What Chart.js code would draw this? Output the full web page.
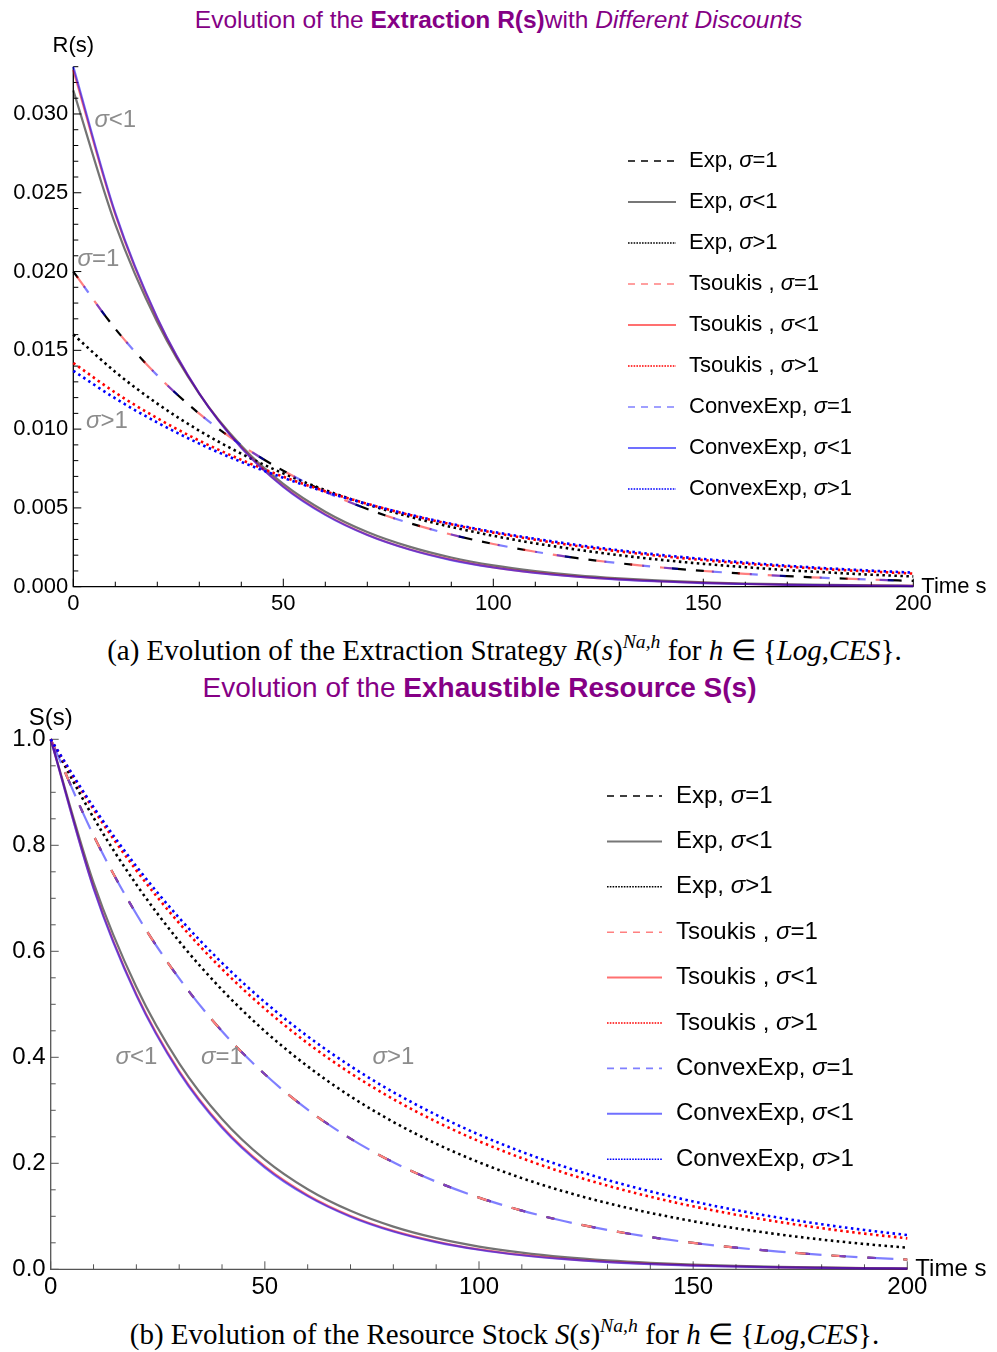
<!DOCTYPE html>
<html>
<head>
<meta charset="utf-8">
<script src="https://cdn.jsdelivr.net/npm/chart.js@4.4.0/dist/chart.umd.min.js"></script>
<style>
  body { margin: 0; background: #fff; width: 997px; height: 1352px; position: relative; overflow: hidden; font-family: 'Liberation Sans', Arial, sans-serif; }
  .title { position: absolute; left: 0; width: 997px; text-align: center; color: #850085; white-space: nowrap; line-height: 30px; }
  .cap { position: absolute; left: 0; width: 997px; text-align: center; font-family: 'Liberation Serif', 'Times New Roman', serif; font-size: 29px; line-height: 30px; white-space: nowrap; }
  .cap sup { font-size: 68%; vertical-align: 0.6em; line-height: 0; }
  canvas { position: absolute; left: 0; }
</style>
</head>
<body>
<div class="title" style="top:5px;font-size:24.5px;">Evolution of the <b>Extraction R(s)</b>with <i>Different Discounts</i></div>
<canvas id="chartR" width="997" height="625" style="top:0;width:997px;height:625px;"></canvas>
<div class="cap" style="top:635px;left:6px;">(a) Evolution of the Extraction Strategy <i>R</i>(<i>s</i>)<sup><i>Na,h</i></sup> for <i>h</i> ∈ {<i>Log</i>,<i>CES</i>}.</div>
<div class="title" style="top:673px;left:-19px;font-size:28px;">Evolution of the <b>Exhaustible Resource S(s)</b></div>
<canvas id="chartS" width="997" height="610" style="top:700px;width:997px;height:610px;"></canvas>
<div class="cap" style="top:1319px;left:6px;">(b) Evolution of the Resource Stock <i>S</i>(<i>s</i>)<sup><i>Na,h</i></sup> for <i>h</i> ∈ {<i>Log</i>,<i>CES</i>}.</div>

<script>
// time grid (s)
const sTime = [0, 10, 20, 30, 40, 50, 60, 70, 80, 90, 100, 110, 120, 130, 140, 150, 160, 170, 180, 190, 200];

const seriesNames = ['Exp', 'Exp', 'Exp', 'Tsoukis ', 'Tsoukis ', 'Tsoukis ', 'ConvexExp', 'ConvexExp', 'ConvexExp'];
const sigmaTags = ['=1', '<1', '>1', '=1', '<1', '>1', '=1', '<1', '>1'];

// extraction R(s)
const rEq    = [0.0200, 0.01637, 0.01341, 0.01098, 0.00899, 0.00736, 0.00602, 0.00493, 0.00404, 0.00331, 0.00271, 0.00222, 0.00181, 0.00149, 0.00122, 0.00100, 0.00082, 0.00067, 0.00055, 0.00045, 0.00037];
const rExpLt = [0.0315, 0.02299, 0.01678, 0.01224, 0.00894, 0.00652, 0.00476, 0.00347, 0.00254, 0.00185, 0.00135, 0.00099, 0.00072, 0.00053, 0.00038, 0.00028, 0.00020, 0.00015, 0.00011, 0.00008, 0.00006];
const rTsLt  = [0.0328, 0.02363, 0.01702, 0.01226, 0.00883, 0.00636, 0.00459, 0.00330, 0.00238, 0.00172, 0.00123, 0.00089, 0.00064, 0.00046, 0.00033, 0.00024, 0.00017, 0.00012, 0.00009, 0.00007, 0.00005];
const rCxLt  = [0.0330, 0.02372, 0.01706, 0.01226, 0.00881, 0.00634, 0.00456, 0.00328, 0.00236, 0.00169, 0.00122, 0.00087, 0.00063, 0.00045, 0.00033, 0.00023, 0.00017, 0.00012, 0.00009, 0.00006, 0.00004];
const rExpGt = [0.0160, 0.01363, 0.01162, 0.00990, 0.00844, 0.00719, 0.00613, 0.00522, 0.00445, 0.00379, 0.00323, 0.00275, 0.00235, 0.00200, 0.00170, 0.00145, 0.00124, 0.00105, 0.00090, 0.00076, 0.00065];
const rTsGt  = [0.0142, 0.01232, 0.01069, 0.00927, 0.00805, 0.00698, 0.00606, 0.00526, 0.00456, 0.00396, 0.00343, 0.00298, 0.00258, 0.00224, 0.00194, 0.00169, 0.00146, 0.00127, 0.00110, 0.00096, 0.00083];
const rCxGt  = [0.0137, 0.01195, 0.01042, 0.00908, 0.00792, 0.00691, 0.00602, 0.00525, 0.00458, 0.00399, 0.00348, 0.00304, 0.00265, 0.00231, 0.00201, 0.00176, 0.00153, 0.00133, 0.00116, 0.00102, 0.00089];

// resource stock S(s)
const sEq    = [1, 0.8187, 0.6703, 0.5488, 0.4493, 0.3679, 0.3012, 0.2466, 0.2019, 0.1653, 0.1353, 0.1108, 0.0907, 0.0743, 0.0608, 0.0498, 0.0408, 0.0334, 0.0273, 0.0224, 0.0183];
const sExpLt = [1, 0.7298, 0.5326, 0.3887, 0.2837, 0.2070, 0.1511, 0.1103, 0.0805, 0.0587, 0.0429, 0.0313, 0.0228, 0.0167, 0.0122, 0.0089, 0.0065, 0.0047, 0.0035, 0.0025, 0.0018];
const sTsLt  = [1, 0.7204, 0.5190, 0.3739, 0.2693, 0.1940, 0.1398, 0.1007, 0.0725, 0.0523, 0.0376, 0.0271, 0.0195, 0.0141, 0.0101, 0.0073, 0.0053, 0.0038, 0.0027, 0.0020, 0.0014];
const sCxLt  = [1, 0.7189, 0.5169, 0.3716, 0.2671, 0.1920, 0.1381, 0.0993, 0.0714, 0.0513, 0.0369, 0.0265, 0.0191, 0.0137, 0.0099, 0.0071, 0.0051, 0.0037, 0.0026, 0.0019, 0.0014];
const sExpGt = [1, 0.8521, 0.7261, 0.6188, 0.5273, 0.4493, 0.3829, 0.3263, 0.2780, 0.2369, 0.2019, 0.1720, 0.1466, 0.1249, 0.1065, 0.0907, 0.0773, 0.0659, 0.0561, 0.0478, 0.0408];
const sTsGt  = [1, 0.8676, 0.7527, 0.6531, 0.5666, 0.4916, 0.4265, 0.3701, 0.3211, 0.2786, 0.2417, 0.2097, 0.1819, 0.1578, 0.1369, 0.1188, 0.1031, 0.0894, 0.0776, 0.0673, 0.0584];
const sCxGt  = [1, 0.8720, 0.7604, 0.6630, 0.5782, 0.5041, 0.4396, 0.3834, 0.3343, 0.2915, 0.2541, 0.2216, 0.1933, 0.1685, 0.1470, 0.1281, 0.1117, 0.0974, 0.0850, 0.0741, 0.0646];

// ticks
const xTicks = [0, 50, 100, 150, 200];
const rYTicks = [0, 0.005, 0.010, 0.015, 0.020, 0.025, 0.030];
const rYLabels = ['0.000', '0.005', '0.010', '0.015', '0.020', '0.025', '0.030'];
const sYTicks = [0, 0.2, 0.4, 0.6, 0.8, 1.0];
const sYLabels = ['0.0', '0.2', '0.4', '0.6', '0.8', '1.0'];

// σ annotations inside the plots
const noteTags = ['<1', '=1', '>1'];
const rNoteX = [10, 6, 8];
const rNoteY = [0.0296, 0.0208, 0.0105];
const sNoteX = [20, 40, 80];
const sNoteY = [0.40, 0.40, 0.40];

// line styles per series (same order as seriesNames)
const dot = [2.5, 3.5];
const stylesR = [
  { color: '#000000', width: 2.2, dash: [8, 40, 14, 10, 8, 28], offset: 0 },
  { color: 'rgba(0,0,0,0.55)', width: 2.2, dash: [], offset: 0 },
  { color: '#000000', width: 2.6, dash: dot, offset: 0 },
  { color: 'rgba(255,0,0,0.5)', width: 2.2, dash: [14, 16, 12, 32, 10, 24], offset: 102 },
  { color: 'rgba(255,0,0,0.55)', width: 2.2, dash: [], offset: 0 },
  { color: '#ff0000', width: 2.6, dash: dot, offset: 0 },
  { color: 'rgba(0,0,255,0.5)', width: 2.2, dash: [8, 14, 14, 34, 10, 28], offset: 90 },
  { color: 'rgba(0,0,255,0.55)', width: 2.2, dash: [], offset: 0 },
  { color: '#0000ff', width: 2.6, dash: dot, offset: 0 }
];
const stylesS = [
  { color: '#000000', width: 2.2, dash: [14, 22, 14, 22, 8, 28], offset: 0 },
  { color: 'rgba(0,0,0,0.55)', width: 2.2, dash: [], offset: 0 },
  { color: '#000000', width: 2.6, dash: dot, offset: 0 },
  { color: 'rgb(255,128,128)', width: 2.2, dash: [14, 22, 14, 22, 8, 28], offset: 0 },
  { color: 'rgba(255,0,0,0.55)', width: 2.2, dash: [], offset: 0 },
  { color: '#ff0000', width: 2.6, dash: dot, offset: 0 },
  { color: 'rgba(0,0,255,0.5)', width: 2.2, dash: [16, 18, 18, 10, 26, 20], offset: 98 },
  { color: 'rgba(0,0,255,0.55)', width: 2.2, dash: [], offset: 0 },
  { color: '#0000ff', width: 2.6, dash: dot, offset: 0 }
];
const legendColors = ['#000', '#777', '#000', '#ff8080', '#ff7070', '#ff0000', '#8080ff', '#7070ff', '#0000ff'];
const legendDash = [[7, 6], [], [1.6, 1.2]];

function runs(ctx, parts, x, y, size, color, align) {
  ctx.fillStyle = color;
  ctx.textBaseline = 'middle';
  ctx.textAlign = 'left';
  let w = 0;
  parts.forEach(p => { ctx.font = (p[1] ? 'italic ' : '') + size + 'px "Liberation Sans", Arial'; w += ctx.measureText(p[0]).width; });
  let cx = align === 'center' ? x - w / 2 : x;
  parts.forEach(p => {
    ctx.font = (p[1] ? 'italic ' : '') + size + 'px "Liberation Sans", Arial';
    ctx.fillText(p[0], cx, y);
    cx += ctx.measureText(p[0]).width;
  });
}

const decor = {
  id: 'decor',
  beforeDatasetsDraw(chart, args, o) {
    const { ctx, chartArea: a, scales: { x, y } } = chart;
    ctx.save();
    ctx.strokeStyle = o.axisColor;
    ctx.lineWidth = 1.3;
    ctx.beginPath();
    ctx.moveTo(a.left, a.top); ctx.lineTo(a.left, a.bottom); ctx.lineTo(a.right, a.bottom);
    ctx.stroke();
    ctx.lineWidth = 1;
    ctx.beginPath();
    for (let v = 0; v <= 200.001; v += 10) {
      const px = x.getPixelForValue(v);
      const len = Math.abs(v % 50) < 1e-6 ? 8 : 5;
      ctx.moveTo(px, a.bottom); ctx.lineTo(px, a.bottom - len);
    }
    for (let k = 0; k * o.yMinor <= y.max + 1e-9; k++) {
      const py = y.getPixelForValue(k * o.yMinor);
      const len = k % o.yEvery === 0 ? 8 : 5;
      ctx.moveTo(a.left, py); ctx.lineTo(a.left + len, py);
    }
    ctx.stroke();
    ctx.restore();
  },
  afterDatasetsDraw(chart, args, o) {
    const { ctx, chartArea: a, scales: { x, y } } = chart;
    ctx.save();
    // axis names
    runs(ctx, [[o.yName, false]], a.left, o.yNameY, o.font, '#000', 'center');
    runs(ctx, [['Time s', false]], a.right + 8, a.bottom, o.font, '#000', 'left');
    // σ notes
    o.noteX.forEach((nx, i) => {
      runs(ctx, [['σ', true], [noteTags[i], false]], x.getPixelForValue(nx), y.getPixelForValue(o.noteY[i]), o.noteFont, '#8c8c8c', 'center');
    });
    // legend
    const L = o.legend;
    seriesNames.forEach((name, i) => {
      const ly = L.y0 + i * L.dy;
      ctx.strokeStyle = legendColors[i];
      ctx.lineWidth = i % 3 === 1 ? 2 : 1.6;
      ctx.setLineDash(legendDash[i % 3]);
      ctx.beginPath(); ctx.moveTo(L.x, ly); ctx.lineTo(L.x + L.len, ly); ctx.stroke();
      ctx.setLineDash([]);
      runs(ctx, [[name + ', ', false], ['σ', true], [sigmaTags[i], false]], L.tx, ly, L.font, '#000', 'left');
    });
    ctx.restore();
  }
};

function makeChart(id, series, styles, yMax, yTicks, yLabels, geo, deco) {
  const datasets = series.map((arr, i) => ({
    label: seriesNames[i] + sigmaTags[i],
    data: sTime.map((t, k) => ({ x: t, y: arr[k] })),
    borderColor: styles[i].color,
    borderWidth: styles[i].width,
    borderDash: styles[i].dash,
    borderDashOffset: styles[i].offset,
    pointRadius: 0,
    cubicInterpolationMode: 'monotone',
    fill: false,
    clip: false,
    order: 8 - i
  }));
  return new Chart(document.getElementById(id), {
    type: 'line',
    data: { datasets },
    options: {
      responsive: false,
      animation: false,
      events: [],
      layout: { padding: { top: geo.top, right: geo.right, left: 0, bottom: 0 } },
      scales: {
        x: {
          type: 'linear', min: 0, max: 200,
          grid: { display: false, drawTicks: false }, border: { display: false },
          afterBuildTicks: s => { s.ticks = xTicks.map(v => ({ value: v })); },
          afterFit: s => { s.height = geo.xH; },
          ticks: { autoSkip: false, maxRotation: 0, padding: 4, color: '#000', font: { family: 'Liberation Sans', size: geo.tick }, callback: v => String(v) }
        },
        y: {
          type: 'linear', min: 0, max: yMax,
          grid: { display: false, drawTicks: false }, border: { display: false },
          afterBuildTicks: s => { s.ticks = yTicks.map(v => ({ value: v })); },
          afterFit: s => { s.width = geo.yW; },
          ticks: { autoSkip: false, padding: 5, color: '#000', font: { family: 'Liberation Sans', size: geo.tick }, callback: (v, i) => yLabels[i] }
        }
      },
      plugins: { legend: { display: false }, tooltip: { enabled: false }, decor: deco }
    },
    plugins: [decor]
  });
}

makeChart('chartR', [rEq, rExpLt, rExpGt, rEq, rTsLt, rTsGt, rEq, rCxLt, rCxGt], stylesR, 0.033, rYTicks, rYLabels,
  { top: 66.7, right: 83.7, xH: 38.3, yW: 73.3, tick: 22 },
  { axisColor: '#000', yMinor: 0.001, yEvery: 5, yName: 'R(s)', yNameY: 46, font: 22, noteX: rNoteX, noteY: rNoteY, noteFont: 24,
    legend: { x: 628, len: 48, tx: 689, y0: 161, dy: 41, font: 22 } });

makeChart('chartS', [sEq, sExpLt, sExpGt, sEq, sTsLt, sTsGt, sEq, sCxLt, sCxGt], stylesS, 1, sYTicks, sYLabels,
  { top: 39.3, right: 89.7, xH: 40.7, yW: 50.7, tick: 24 },
  { axisColor: '#555', yMinor: 0.05, yEvery: 4, yName: 'S(s)', yNameY: 18, font: 24, noteX: sNoteX, noteY: sNoteY, noteFont: 24,
    legend: { x: 607, len: 55, tx: 676, y0: 96, dy: 45.4, font: 24 } });
</script>
</body>
</html>
